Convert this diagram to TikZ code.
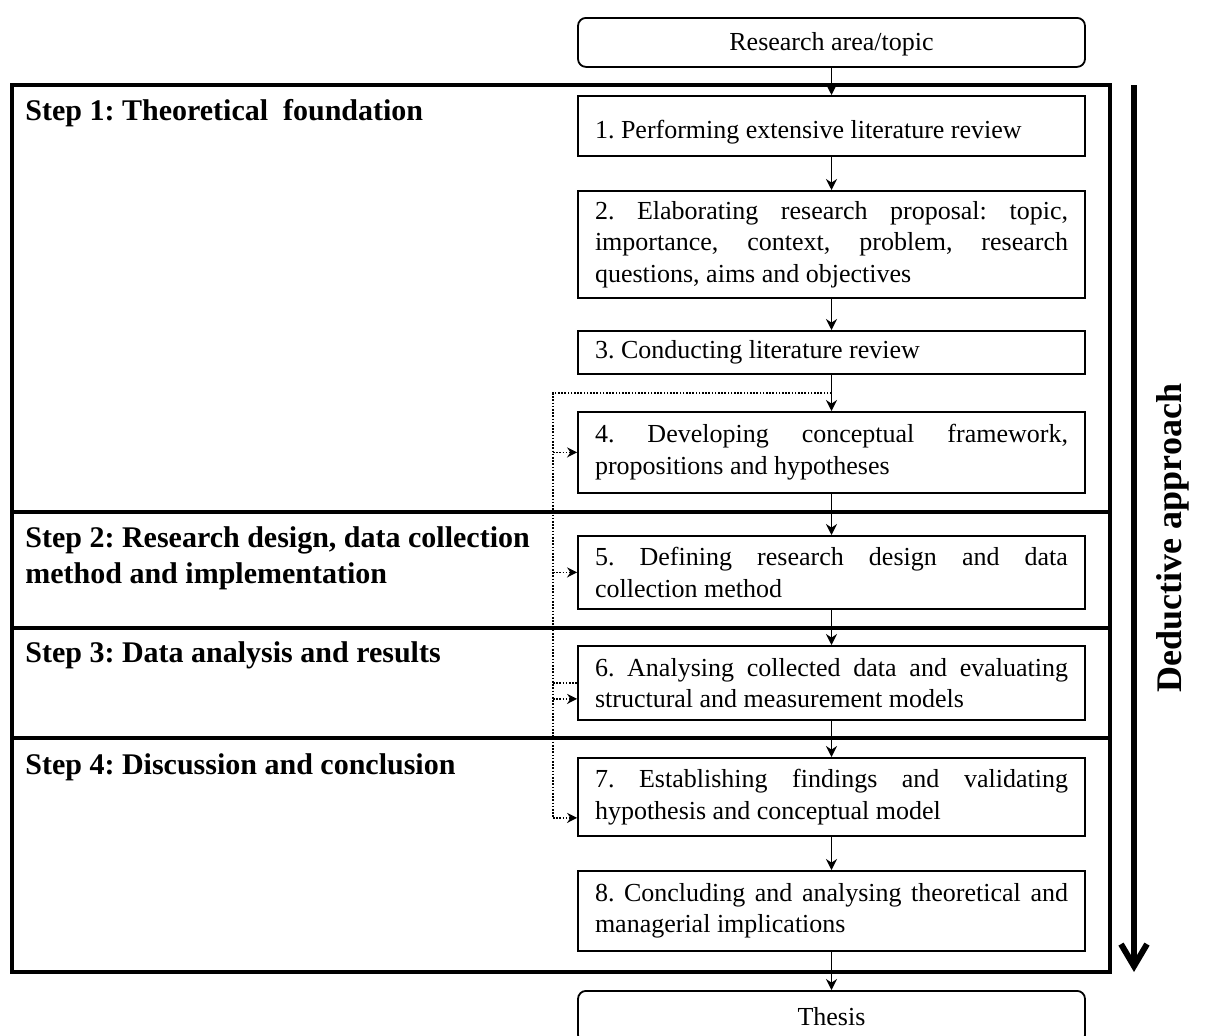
\documentclass[tikz,border=0pt]{standalone}
\usepackage{fontspec}
\setmainfont{Liberation Serif}
\usetikzlibrary{arrows.meta,calc}
\hbadness=10000
\hfuzz=4pt
\frenchspacing

\begin{document}
\begin{tikzpicture}[x=0.5pt,y=-0.5pt,
  bodyfont/.style={font=\fontsize{13}{15.8}\selectfont},
  stepbox/.style={draw, line width=0.9pt, text width=236.5pt, inner xsep=8.5pt,
    inner ysep=0pt, align=justify, bodyfont, anchor=north},
  endbox/.style={draw, rounded corners=4pt, line width=0.9pt, minimum width=253.5pt,
    inner sep=0pt, bodyfont, anchor=north},
  flow/.style={line width=0.8pt, -{Stealth[length=5.5pt,width=5.5pt]}},
  feedback/.style={line width=0.8pt, dash pattern=on 0.8pt off 0.8pt},
  feedarrow/.style={feedback, -{Stealth[length=5pt,width=5pt,sep=0pt]}},
  frameline/.style={line width=2pt},
  steplabel/.style={anchor=west, inner sep=0pt, align=left,
    font=\fontsize{15}{18}\selectfont\bfseries},
]
\useasboundingbox (0,0) rectangle (1206,1035);

% outer frame and the four stage bands
\draw[frameline] (12,85) rectangle (1110,972);
\draw[frameline] (12,512) -- (1110,512);
\draw[frameline] (12,628) -- (1110,628);
\draw[frameline] (12,738) -- (1110,738);

% stage titles
\node[steplabel] (s1) at (25,113) {Step 1: Theoretical\ \ foundation};
\node[steplabel] (s2) at (25,558) {Step 2: Research design, data collection\\method and implementation};
\node[steplabel] (s3) at (25,655) {Step 3: Data analysis and results};
\node[steplabel] (s4) at (25,767) {Step 4: Discussion and conclusion};

% process boxes
\node[endbox, minimum height=24.5pt, text height=11pt] (r) at (831.5,17) {Research area/topic};
\node[stepbox, minimum height=30pt, text height=15pt, text depth=2.8pt] (b1) at (831.5,95) {1. Performing extensive literature review};
\node[stepbox, minimum height=53.5pt] (b2) at (831.5,190) {2. Elaborating research proposal: topic,\linebreak importance, context, problem, research\linebreak questions, aims and objectives};
\node[stepbox, minimum height=21.5pt] (b3) at (831.5,330) {3. Conducting literature review};
\node[stepbox, minimum height=40.5pt] (b4) at (831.5,411) {4. Developing conceptual framework,\linebreak propositions and hypotheses};
\node[stepbox, minimum height=36.5pt] (b5) at (831.5,535) {5. Defining research design and data\linebreak collection method};
\node[stepbox, minimum height=37pt] (b6) at (831.5,645) {6. Analysing collected data and evaluating\linebreak structural and measurement models};
\node[stepbox, minimum height=39pt] (b7) at (831.5,757) {7. Establishing findings and validating\linebreak hypothesis and conceptual model};
\node[stepbox, minimum height=40pt] (b8) at (831.5,870) {8. Concluding and analysing theoretical and\linebreak managerial implications};
\node[endbox, minimum height=26pt] (t) at (831.5,990) {Thesis};

% main sequence
\draw[flow] (r) -- (b1);
\draw[flow] (b1) -- (b2);
\draw[flow] (b2) -- (b3);
\draw[flow] (b3) -- (b4);
\draw[flow] (b4) -- (b5);
\draw[flow] (b5) -- (b6);
\draw[flow] (b6) -- (b7);
\draw[flow] (b7) -- (b8);
\draw[flow] (b8) -- (t);

% dotted feedback from the literature review
\coordinate (lvl) at (0,393);
\coordinate (fork) at (b3.south |- lvl);
\coordinate (trunk) at (553,393);
\coordinate (b6in) at ($(b6.west)+(0,16)$);
\coordinate (b7in) at ($(b7.west)+(0,21)$);
\coordinate (trunkend) at (trunk |- b7in);
\draw[feedback] (fork) -- (trunk) -- (trunkend);
\draw[feedarrow] (trunk |- b4.west) -- (b4.west);
\draw[feedarrow] (trunk |- b5.west) -- (b5.west);
\draw[feedback] (trunk |- b6.west) -- (b6.west);
\draw[feedarrow] (trunk |- b6in) -- (b6in);
\draw[feedarrow] (trunkend) -- (b7in);

% overall direction
\coordinate (dtop) at (1134,85);
\coordinate (dbot) at (1134,972);
\draw[line width=3pt, -{Straight Barb[length=11pt,width=13pt]}] (dtop) -- (dbot);
\node[rotate=90, inner sep=0pt, font=\fontsize{18}{20}\selectfont\bfseries] (ded) at (1173,538) {Deductive approach};
\end{tikzpicture}
\end{document}
